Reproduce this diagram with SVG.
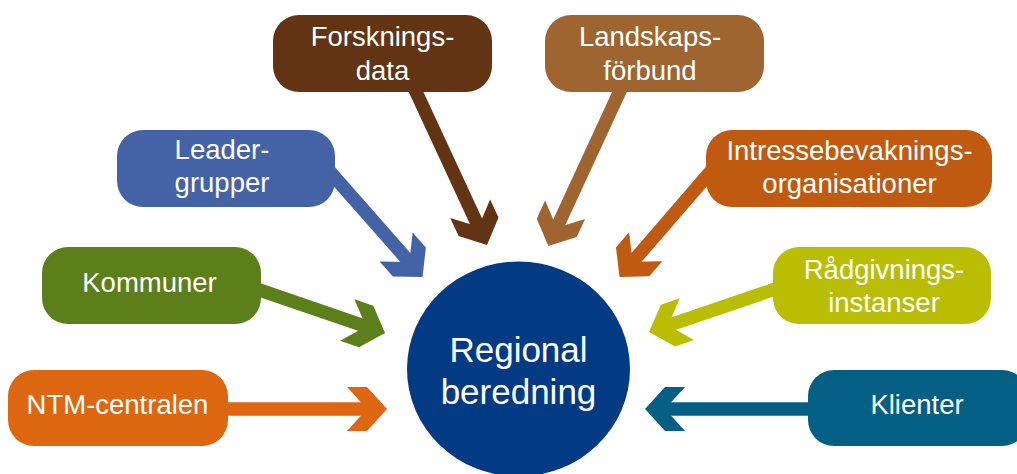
<svg xmlns="http://www.w3.org/2000/svg" width="1017" height="474" viewBox="0 0 1017 474">
<style>
  .lbl { font-family: "Liberation Sans", Arial, sans-serif; font-size: 27.5px; fill: #ffffff; text-anchor: middle; }
  .big { font-family: "Liberation Sans", Arial, sans-serif; font-size: 35px; fill: #ffffff; text-anchor: middle; }
  .shaft { fill: none; stroke-width: 13.4; stroke-linecap: butt; }
</style>
<defs>
  <path id="chev" d="M40 22 L20 44 L0 44 L20 22 L0 0 L20 0 Z"/>
  <marker id="mForsk" markerUnits="userSpaceOnUse" markerWidth="40" markerHeight="44" viewBox="0 0 40 44" refX="26" refY="22" orient="auto" overflow="visible"><use href="#chev" fill="#623413"/></marker>
  <marker id="mLand" markerUnits="userSpaceOnUse" markerWidth="40" markerHeight="44" viewBox="0 0 40 44" refX="26" refY="22" orient="auto" overflow="visible"><use href="#chev" fill="#9E6531"/></marker>
  <marker id="mLeader" markerUnits="userSpaceOnUse" markerWidth="40" markerHeight="44" viewBox="0 0 40 44" refX="26" refY="22" orient="auto" overflow="visible"><use href="#chev" fill="#4462A6"/></marker>
  <marker id="mIntr" markerUnits="userSpaceOnUse" markerWidth="40" markerHeight="44" viewBox="0 0 40 44" refX="26" refY="22" orient="auto" overflow="visible"><use href="#chev" fill="#BF5A10"/></marker>
  <marker id="mKomm" markerUnits="userSpaceOnUse" markerWidth="40" markerHeight="44" viewBox="0 0 40 44" refX="26" refY="22" orient="auto" overflow="visible"><use href="#chev" fill="#5C7F1A"/></marker>
  <marker id="mRad" markerUnits="userSpaceOnUse" markerWidth="40" markerHeight="44" viewBox="0 0 40 44" refX="26" refY="22" orient="auto" overflow="visible"><use href="#chev" fill="#B9BE02"/></marker>
  <marker id="mNTM" markerUnits="userSpaceOnUse" markerWidth="40" markerHeight="44" viewBox="0 0 40 44" refX="26" refY="22" orient="auto" overflow="visible"><use href="#chev" fill="#DC6710"/></marker>
  <marker id="mKli" markerUnits="userSpaceOnUse" markerWidth="40" markerHeight="44" viewBox="0 0 40 44" refX="26" refY="22" orient="auto" overflow="visible"><use href="#chev" fill="#035F84"/></marker>
</defs>
<rect width="1017" height="474" fill="#ffffff"/>
<g id="connectors">
  <line class="shaft" x1="411" y1="81" x2="481.1" y2="232.3" stroke="#623413" marker-end="url(#mForsk)"/>
  <line class="shaft" x1="625" y1="80" x2="554.2" y2="233.3" stroke="#9E6531" marker-end="url(#mLand)"/>
  <line class="shaft" x1="324" y1="165" x2="413.3" y2="266.5" stroke="#4462A6" marker-end="url(#mLeader)"/>
  <line class="shaft" x1="719" y1="162" x2="628.7" y2="266.4" stroke="#BF5A10" marker-end="url(#mIntr)"/>
  <line class="shaft" x1="245" y1="285" x2="371.8" y2="328.5" stroke="#5C7F1A" marker-end="url(#mKomm)"/>
  <line class="shaft" x1="790" y1="284" x2="662.3" y2="327.5" stroke="#B9BE02" marker-end="url(#mRad)"/>
  <line class="shaft" x1="215" y1="409" x2="373" y2="409" stroke="#DC6710" marker-end="url(#mNTM)"/>
  <line class="shaft" x1="820" y1="409" x2="659" y2="409" stroke="#035F84" marker-end="url(#mKli)"/>
</g>
<g id="node-forskningsdata">
  <rect x="273" y="15" width="219" height="77" rx="26" fill="#623413"/>
  <text class="lbl" x="382.5" y="46">Forsknings-</text>
  <text class="lbl" x="382.5" y="80">data</text>
</g>
<g id="node-landskapsforbund">
  <rect x="545" y="15" width="219" height="77" rx="26" fill="#9E6531"/>
  <text class="lbl" x="650" y="46">Landskaps-</text>
  <text class="lbl" x="650" y="80">förbund</text>
</g>
<g id="node-leadergrupper">
  <rect x="117" y="130" width="218" height="77" rx="26" fill="#4462A6"/>
  <text class="lbl" x="222" y="159">Leader-</text>
  <text class="lbl" x="222" y="192">grupper</text>
</g>
<g id="node-intressebevakningsorganisationer">
  <rect x="706" y="130" width="286" height="77" rx="26" fill="#BF5A10"/>
  <text class="lbl" x="849.5" y="160">Intressebevaknings-</text>
  <text class="lbl" x="849.5" y="193">organisationer</text>
</g>
<g id="node-kommuner">
  <rect x="42" y="247" width="219" height="77" rx="26" fill="#5C7F1A"/>
  <text class="lbl" x="149.5" y="292">Kommuner</text>
</g>
<g id="node-radgivningsinstanser">
  <rect x="773" y="247" width="218" height="77" rx="26" fill="#B9BE02"/>
  <text class="lbl" x="884" y="279">Rådgivnings-</text>
  <text class="lbl" x="884" y="311.5">instanser</text>
</g>
<g id="node-ntm-centralen">
  <rect x="8" y="370" width="220" height="76" rx="26" fill="#DC6710"/>
  <text class="lbl" x="117.5" y="414">NTM-centralen</text>
</g>
<g id="node-klienter">
  <rect x="808" y="370" width="220" height="76" rx="26" fill="#035F84"/>
  <text class="lbl" x="917" y="414">Klienter</text>
</g>
<g id="node-regional-beredning">
  <ellipse cx="518.5" cy="369" rx="111.5" ry="107.5" fill="#023A83"/>
  <text class="big" x="518.5" y="362">Regional</text>
  <text class="big" x="518.5" y="404">beredning</text>
</g>
</svg>
